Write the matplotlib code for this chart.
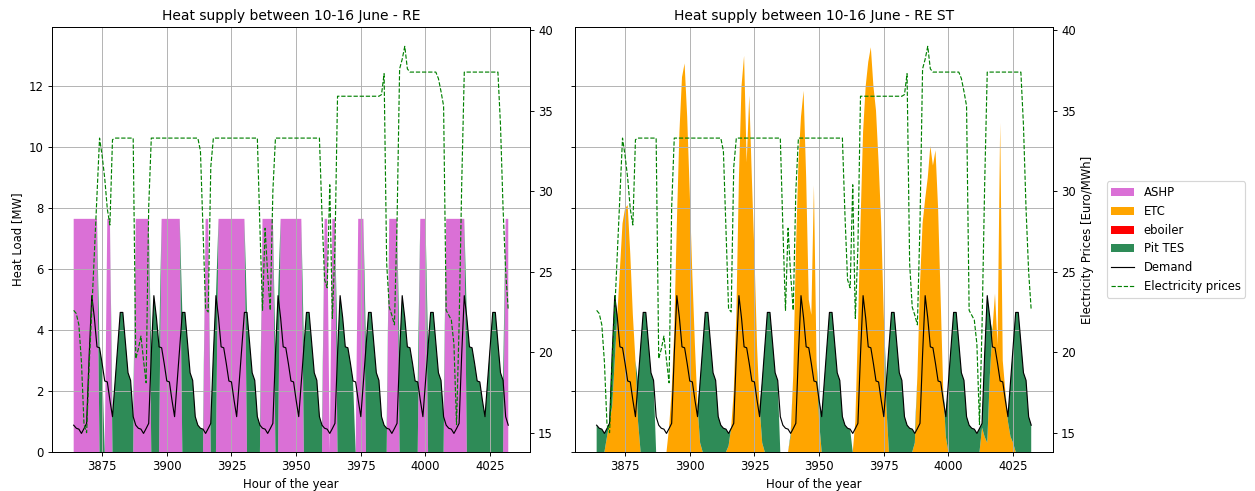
import numpy as np
import matplotlib.pyplot as plt

# hours of the year, 10 June 00:00 to 17 June 00:00
hours = np.arange(3864, 4033)

# district heating demand [MW], one row per day
heat_demand = np.array(
    [0.88, 0.78, 0.75, 0.61, 0.77, 0.94, 3.2, 5.13, 4.4, 3.45, 3.42, 2.9, 2.33, 2.3, 1.7, 1.16, 2.3, 3.45, 4.58, 4.58, 3.6, 2.6, 2.35, 1.16]
    + [0.88, 0.78, 0.75, 0.61, 0.77, 0.94, 3.2, 5.13, 4.4, 3.45, 3.42, 2.9, 2.33, 2.3, 1.7, 1.16, 2.3, 3.45, 4.58, 4.58, 3.6, 2.6, 2.35, 1.16]
    + [0.88, 0.78, 0.75, 0.61, 0.77, 0.94, 3.2, 5.13, 4.4, 3.45, 3.42, 2.9, 2.33, 2.3, 1.7, 1.16, 2.3, 3.45, 4.58, 4.58, 3.6, 2.6, 2.35, 1.16]
    + [0.88, 0.78, 0.75, 0.61, 0.77, 0.94, 3.2, 5.13, 4.4, 3.45, 3.42, 2.9, 2.33, 2.3, 1.7, 1.16, 2.3, 3.45, 4.58, 4.58, 3.6, 2.6, 2.35, 1.16]
    + [0.88, 0.78, 0.75, 0.61, 0.77, 0.94, 3.2, 5.13, 4.4, 3.45, 3.42, 2.9, 2.33, 2.3, 1.7, 1.16, 2.3, 3.45, 4.58, 4.58, 3.6, 2.6, 2.35, 1.16]
    + [0.88, 0.78, 0.75, 0.61, 0.77, 0.94, 3.2, 5.13, 4.4, 3.45, 3.42, 2.9, 2.33, 2.3, 1.7, 1.16, 2.3, 3.45, 4.58, 4.58, 3.6, 2.6, 2.35, 1.16]
    + [0.88, 0.78, 0.75, 0.61, 0.77, 0.94, 3.2, 5.13, 4.4, 3.45, 3.42, 2.9, 2.33, 2.3, 1.7, 1.16, 2.3, 3.45, 4.58, 4.58, 3.6, 2.6, 2.35, 1.16]
    + [0.88]
)

# spot electricity price [Euro/MWh]
el_price = np.array(
    [22.6, 22.4, 21.7, 19.4, 15.5, 15.0, 19.2, 22.6, 26.2, 29.7, 33.3, 32.2, 30.8, 28.9, 27.9, 33.2, 33.3, 33.3, 33.3, 33.3, 33.3, 33.3, 33.3, 33.3]
    + [19.6, 20.2, 21.0, 19.5, 18.1, 29.0, 33.3, 33.3, 33.3, 33.3, 33.3, 33.3, 33.3, 33.3, 33.3, 33.3, 33.3, 33.3, 33.3, 33.3, 33.3, 33.3, 33.3, 33.3]
    + [33.3, 32.5, 27.5, 22.7, 22.5, 31.5, 33.3, 33.3, 33.3, 33.3, 33.3, 33.3, 33.3, 33.3, 33.3, 33.3, 33.3, 33.3, 33.3, 33.3, 33.3, 33.3, 33.3, 33.3]
    + [27.7, 22.6, 27.7, 24.8, 22.6, 30.0, 33.3, 33.3, 33.3, 33.3, 33.3, 33.3, 33.3, 33.3, 33.3, 33.3, 33.3, 33.3, 33.3, 33.3, 33.3, 33.3, 33.3, 33.3]
    + [28.5, 24.5, 24.0, 30.4, 22.1, 26.5, 35.9, 35.9, 35.9, 35.9, 35.9, 35.9, 35.9, 35.9, 35.9, 35.9, 35.9, 35.9, 35.9, 35.9, 35.9, 35.9, 35.9, 36.0]
    + [37.3, 25.5, 22.8, 22.3, 21.7, 28.0, 37.6, 38.2, 39.0, 37.6, 37.4, 37.4, 37.4, 37.4, 37.4, 37.4, 37.4, 37.4, 37.4, 37.4, 37.4, 37.0, 36.2, 35.3]
    + [22.6, 22.3, 22.0, 20.5, 15.5, 21.7, 30.4, 37.4, 37.4, 37.4, 37.4, 37.4, 37.4, 37.4, 37.4, 37.4, 37.4, 37.4, 37.4, 37.4, 37.4, 34.1, 28.9, 25.0]
    + [22.6]
)

# RE case: heat pump runs at full load in these hour blocks
ashp_capacity = 7.65
ashp_re_on = [(3864, 3873), (3877, 3878), (3888, 3893), (3898, 3905), (3915, 3916),
              (3920, 3930), (3937, 3941), (3944, 3952), (3961, 3962), (3964, 3965),
              (3974, 3976), (3986, 3989), (3998, 4000), (4008, 4015), (4031, 4032)]
# RE case: pit storage discharge covers the load in these hour blocks
tes_re_on = [(3874, 3875), (3879, 3887), (3894, 3897), (3906, 3914), (3917, 3919),
             (3931, 3936), (3942, 3943), (3953, 3960), (3966, 3972), (3977, 3985),
             (3990, 3997), (4001, 4007), (4016, 4030)]

# RE ST case: solar collector output [MW], one row per day
etc_st = np.array(
    [0, 0, 0, 0, 0.5, 1.0, 1.5, 3.0, 4.5, 6.0, 7.5, 8.0, 8.1, 6.5, 4.5, 3.0, 1.0, 0, 0, 0, 0, 0, 0, 0]
    + [0, 0, 0, 0, 0.8, 2.0, 4.0, 7.5, 10.5, 12.3, 12.75, 11.0, 8.5, 5.8, 3.5, 1.5, 0.3, 0, 0, 0, 0, 0, 0, 0]
    + [0, 0, 0, 0.2, 0.8, 2.0, 4.5, 9.0, 12.0, 13.0, 9.5, 11.7, 9.0, 6.5, 3.5, 1.5, 0.3, 0, 0, 0, 0, 0, 0, 0]
    + [0, 0, 0, 0.5, 2.5, 6.5, 9.5, 11.0, 11.85, 9.0, 5.0, 4.5, 8.75, 3.0, 1.0, 0, 0, 0, 0, 0, 0, 0, 0, 0]
    + [0, 0, 0, 0, 1.0, 4.0, 7.5, 10.5, 12.0, 12.8, 13.28, 12.0, 11.2, 9.5, 7.5, 4.5, 1.5, 0, 0, 0, 0, 0, 0, 0]
    + [0, 0, 0, 0.3, 2.5, 5.5, 7.5, 8.3, 9.0, 10.04, 9.4, 9.9, 8.0, 5.0, 2.0, 0.5, 0, 0, 0, 0, 0, 0, 0, 0]
    + [0, 0, 0, 0, 0, 0.8, 0.5, 0.3, 2.5, 4.0, 5.2, 3.5, 10.8, 3.0, 2.0, 1.0, 0.5, 0.3, 0, 0, 0, 0, 0, 0]
    + [0]
)
# RE ST case: hours with no storage discharge
tes_st_off = [(3887, 3891), (3935, 3938), (3963, 3963)]


def in_blocks(blocks):
    mask = np.zeros(len(hours), dtype=bool)
    for a, b in blocks:
        mask |= (hours >= a) & (hours <= b)
    return mask


zeros = np.zeros(len(hours))
ashp_re = np.where(in_blocks(ashp_re_on), ashp_capacity, 0.0)
tes_re = np.where(in_blocks(tes_re_on), heat_demand, 0.0)
tes_st = np.where(in_blocks(tes_st_off), 0.0, np.clip(heat_demand - etc_st, 0, None))

DPI = 83.33
fig, (ax1, ax2) = plt.subplots(1, 2, figsize=(1255 / DPI, 491 / DPI), sharey=True)
fig.subplots_adjust(left=0.0414, right=0.839, bottom=0.0794, top=0.945, wspace=0.094)


def supply_panel(ax, ashp, etc, eboiler, tes, title):
    polys = ax.stackplot(hours, ashp, etc, eboiler, tes,
                         labels=['ASHP', 'ETC', 'eboiler', 'Pit TES'],
                         colors=['orchid', 'orange', 'red', 'seagreen'], linewidth=0)
    dline, = ax.plot(hours, heat_demand, color='black', lw=1, label='Demand')
    ax.set_title(title)
    ax.set_xlabel('Hour of the year')
    ax.grid(True)
    axp = ax.twinx()
    pline, = axp.plot(hours, el_price, color='green', ls='--', lw=1, label='Electricity prices')
    return axp, list(polys) + [dline, pline]


supply_panel(ax1, ashp_re, zeros, zeros, tes_re, 'Heat supply between 10-16 June - RE')
ax1.set_ylabel('Heat Load [MW]')

ax2p, handles = supply_panel(ax2, zeros, etc_st, zeros, tes_st, 'Heat supply between 10-16 June - RE ST')
ax2p.set_ylabel('Electricity Prices [Euro/MWh]')
ax2p.legend(handles, [h.get_label() for h in handles], loc='center left', bbox_to_anchor=(1.1, 0.5))

fig.savefig('out.png', dpi=DPI)
